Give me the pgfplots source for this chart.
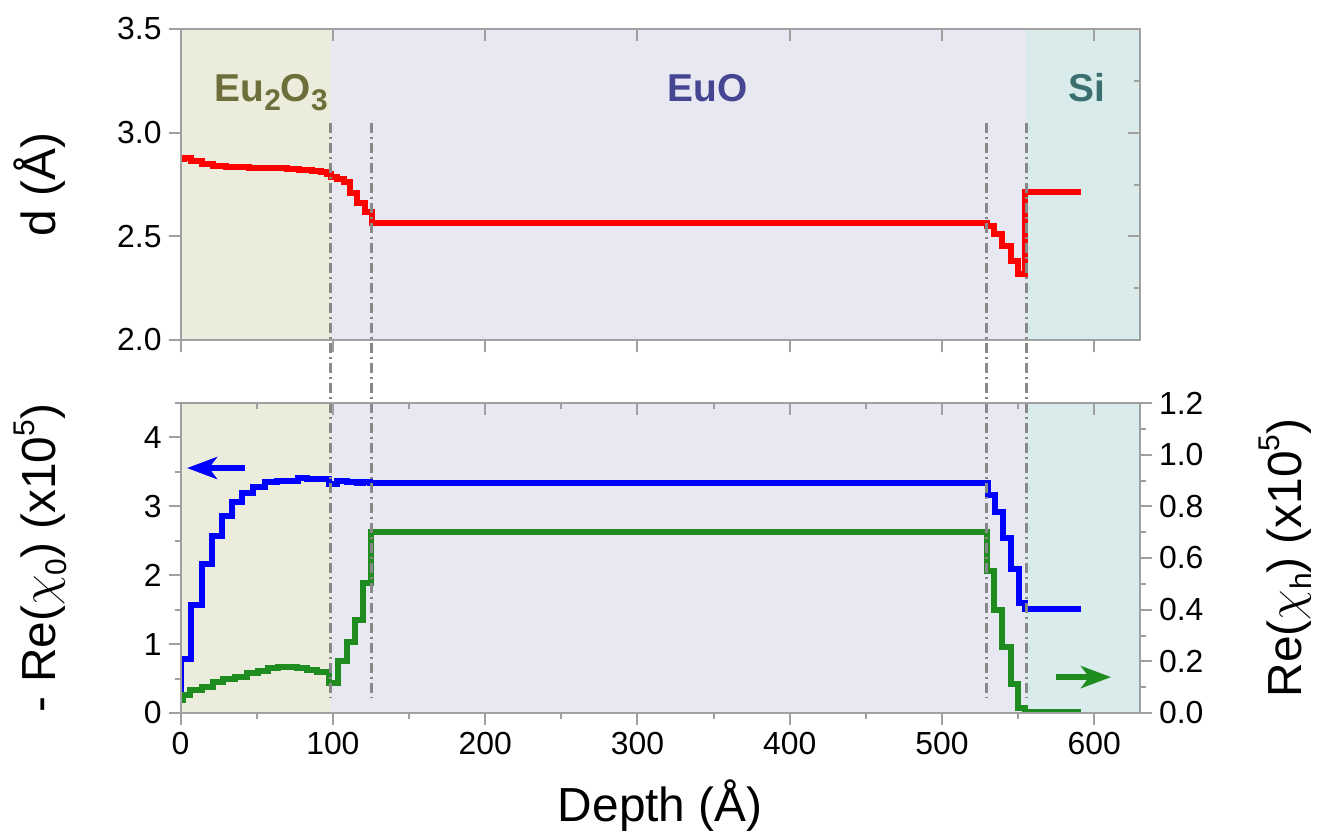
\documentclass[border=0pt]{standalone}
\usepackage{pgfplots}
\pgfplotsset{compat=1.18}
\usepackage{fontspec}
\setmainfont{Liberation Sans}
\usetikzlibrary{arrows.meta}

\definecolor{bgA}{HTML}{ECECDC}
\definecolor{bgB}{HTML}{E8E8F3}
\definecolor{bgC}{HTML}{DAEBEB}
\definecolor{txA}{HTML}{6E6E3A}
\definecolor{txB}{HTML}{454592}
\definecolor{txC}{HTML}{3C7070}
\definecolor{axgray}{HTML}{A0A0A0}
\definecolor{dashgray}{HTML}{888888}
\definecolor{chigreen}{HTML}{1E8C1E}

% lowered / raised indices at a fixed size
\newcommand{\sub}[2][15]{\raisebox{-0.42ex}{\fontsize{#1}{#1}\selectfont #2}}
\newcommand{\sups}[2][15]{\raisebox{0.85ex}{\fontsize{#1}{#1}\selectfont #2}}

\pgfplotsset{
  base/.style={
    scale only axis, width=479.7bp,
    xmin=0, xmax=630,
    axis line style={axgray, line width=1bp},
    every tick/.style={axgray, line width=1bp},
    major tick length=6bp, minor tick length=3bp,
    tick label style={font=\fontsize{16}{19}\selectfont},
    label style={font=\fontsize{24}{29}\selectfont},
    /pgf/number format/assume math mode=true,
    axis on top,
  },
  onedec/.style={yticklabel style={/pgf/number format/.cd, fixed, fixed zerofill, precision=1}},
}
\tikzset{
  boundary/.style={dashgray, line width=1.5bp, dash pattern=on 5bp off 2bp on 1bp off 2bp},
  region/.style={font=\fontsize{19.5}{23}\bfseries\selectfont, anchor=base},
  arrowtip/.style={-{Stealth[length=15bp,width=11bp,inset=4bp]}},
}

\begin{document}
\begin{tikzpicture}

% ---------- interplanar spacing ----------
\begin{axis}[base, at={(90.3bp,-170bp)}, anchor=south west, height=155.5bp,
  ymin=2, ymax=3.5, ytick={2,2.5,3,3.5}, onedec,
  xtick={0,100,...,600}, xticklabels={},
  xtick pos=bottom, ytick pos=left, tick align=outside,
  ylabel={d (Å)},
  ylabel style={at={(axis description cs:-0.1466,0.5)}, anchor=center},
]
  \fill[bgA] (axis cs:0,2) rectangle (axis cs:98.6,3.5);
  \fill[bgB] (axis cs:98.6,2) rectangle (axis cs:555.2,3.5);
  \fill[bgC] (axis cs:555.2,2) rectangle (axis cs:630,3.5);
  \addplot[const plot, red, line width=3bp] coordinates {
    (0,2.875) (2,2.880) (6.6,2.862) (14,2.848) (21,2.838) (30,2.834)
    (45,2.832) (60,2.830) (70,2.826) (78,2.820) (86,2.815) (92,2.808)
    (96,2.800) (98.5,2.785) (103,2.776) (107.5,2.762) (111.5,2.708)
    (116,2.662) (121,2.616) (125.5,2.566) (529.3,2.551) (534,2.512)
    (539.5,2.452) (545,2.380) (549.6,2.318) (554.8,2.716) (591.4,2.716)
  };
  \node[region, txA] at (axis cs:59.5,3.15) {Eu\sub[15]{\bfseries 2}O\sub[15]{\bfseries 3}};
  \node[region, txB] at (axis cs:346,3.15) {EuO};
  \node[region, txC] at (axis cs:595,3.15) {Si};
\end{axis}
% inward ticks on the top and right edges
\begin{axis}[base, at={(90.3bp,-170bp)}, anchor=south west, height=155.5bp,
  ymin=2, ymax=3.5, ytick={2,2.5,3,3.5}, minor ytick={2.25,2.75,3.25},
  xtick={0,100,...,600}, xticklabels={}, yticklabels={},
  xtick pos=top, ytick pos=right, tick align=inside,
]
\end{axis}

% ---------- susceptibilities ----------
\begin{axis}[base, at={(90.3bp,-356.5bp)}, anchor=south west, height=155bp,
  ymin=0, ymax=4.5, ytick={0,1,2,3,4}, minor ytick={0.5,1.5,2.5,3.5,4.5},
  xtick={0,100,...,600}, minor xtick={50,150,...,550},
  xtick pos=bottom, ytick pos=left, tick align=outside,
  xlabel={Depth (Å)},
  xlabel style={at={(axis description cs:0.5,-0.3)}, anchor=center},
  ylabel={- Re($\chi$\sub{0}) (x10\sups{5})},
  ylabel style={at={(axis description cs:-0.1466,0.5)}, anchor=center},
]
  \fill[bgA] (axis cs:0,0) rectangle (axis cs:98.6,4.5);
  \fill[bgB] (axis cs:98.6,0) rectangle (axis cs:555.2,4.5);
  \fill[bgC] (axis cs:555.2,0) rectangle (axis cs:630,4.5);
  \addplot[const plot, blue, line width=3bp] coordinates {
    (0,0.30) (0.5,0.78) (6.8,1.57) (13.8,2.17) (20.4,2.57) (27,2.86)
    (34,3.06) (40.5,3.19) (47.8,3.285) (55.5,3.35) (63,3.365) (77,3.41)
    (83,3.39) (89,3.40) (97.7,3.32) (102.5,3.37) (109,3.36) (115.7,3.335)
    (120,3.35) (124.4,3.335) (529.9,3.165) (535.1,2.92) (540.2,2.535)
    (545,2.085) (550.4,1.59) (554.8,1.51) (591.4,1.51)
  };
  \draw[blue, line width=3bp, arrowtip]
    (axis cs:42.3,3.556) -- (axis cs:4.2,3.556);
\end{axis}
\begin{axis}[base, at={(90.3bp,-356.5bp)}, anchor=south west, height=155bp,
  axis x line=none, axis y line*=right,
  ymin=0, ymax=1.2, ytick={0,0.2,...,1.2}, minor ytick={0.1,0.3,...,1.1}, onedec,
  ytick pos=right, tick align=outside,
  ylabel={Re($\chi$\sub{h}) (x10\sups{5})},
  ylabel style={at={(axis description cs:1.1515,0.5)}, anchor=center, rotate=0},
]
  \addplot[const plot, chigreen, line width=3bp] coordinates {
    (0,0.05) (1.8,0.07) (6.2,0.089) (13.9,0.102) (21.5,0.119) (28,0.132)
    (35.7,0.141) (43.4,0.154) (51,0.163) (57.6,0.173) (64.2,0.179)
    (76.3,0.175) (82.8,0.166) (89.4,0.158) (97.7,0.115) (103.6,0.201)
    (109.1,0.276) (114.6,0.36) (120,0.504) (125.1,0.702) (529.2,0.551)
    (534,0.399) (539.5,0.254) (545,0.111) (549.8,0.018) (554.8,0.003)
    (591.4,0.003)
  };
  \draw[chigreen, line width=3bp, arrowtip]
    (axis cs:574.6,0.139) -- (axis cs:611,0.139);
\end{axis}
% inward ticks on the top edge, and the interface markers across both panels
\begin{axis}[base, at={(90.3bp,-356.5bp)}, anchor=south west, height=155bp,
  ymin=0, ymax=4.5, ytick=\empty,
  xtick={0,100,...,600}, minor xtick={50,150,...,550}, xticklabels={},
  xtick pos=top, tick align=inside, clip=false,
]
  \draw[boundary] (axis cs:98.6,8.57) -- (axis cs:98.6,0.22);
  \draw[boundary] (axis cs:125.6,8.57) -- (axis cs:125.6,0.22);
  \draw[boundary] (axis cs:529.2,8.57) -- (axis cs:529.2,0.22);
  \draw[boundary] (axis cs:555.2,8.57) -- (axis cs:555.2,0.22);
\end{axis}

\pgfresetboundingbox
\path[use as bounding box] (0,0) rectangle (659.5bp,-419bp);
\end{tikzpicture}
\end{document}
